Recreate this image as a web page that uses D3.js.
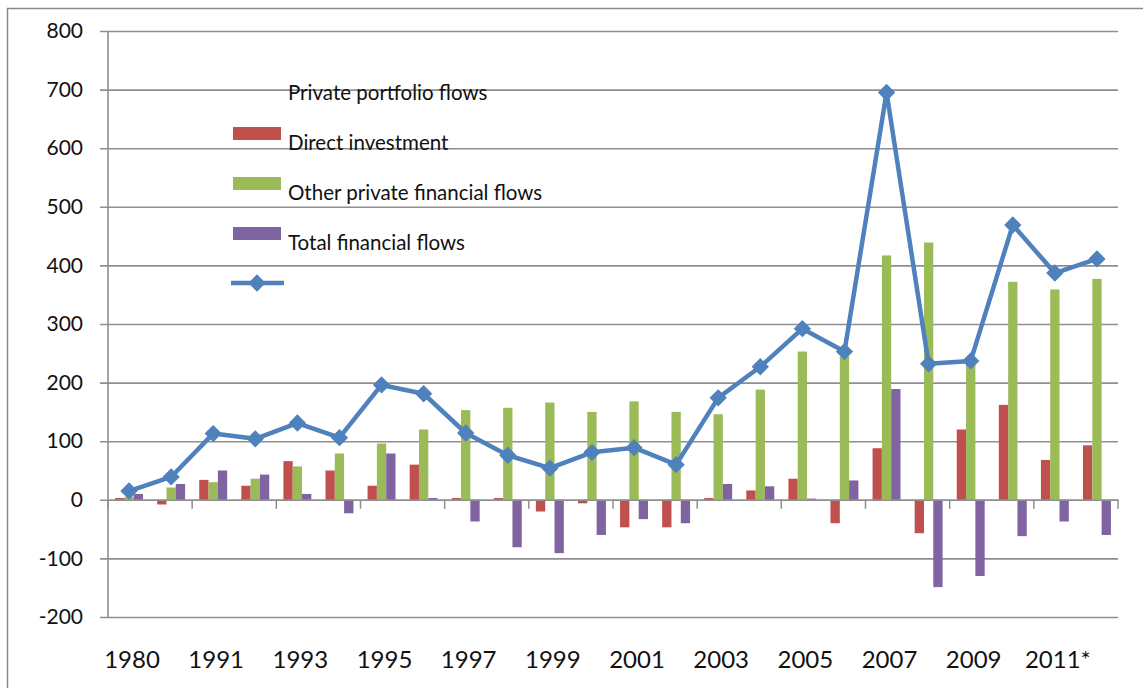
<!DOCTYPE html>
<html>
<head>
<meta charset="utf-8">
<script src="https://cdn.jsdelivr.net/npm/d3@7"></script>
<style>
  body { margin: 0; background: #fff; }
  svg { display: block; font-family: Lato, "Open Sans", sans-serif; }
</style>
</head>
<body>
<div></div>
<script>
const years = ["1980", "1990", "1991", "1992", "1993", "1994", "1995", "1996", "1997", "1998", "1999", "2000",
  "2001", "2002", "2003", "2004", "2005", "2006", "2007", "2008", "2009", "2010", "2011*", "2012*"];
const directInvestment = [3, -8, 34, 24, 66, 50, 24, 60, 3, 3, -20, -6, -47, -47, 3, 16, 36, -40, 88, -57, 120, 162, 68, 93];
const otherPrivateFlows = [5, 21, 30, 36, 57, 79, 96, 120, 153, 157, 166, 150, 168, 150, 146, 188, 253, 245, 417, 439, 232, 372, 359, 377];
const totalFinancialFlows = [10, 27, 50, 43, 10, -23, 79, 3, -37, -81, -91, -60, -33, -40, 27, 23, 2, 33, 189, -149, -130, -62, -37, -60];
const lineFlows = [15, 39, 113, 104, 131, 106, 196, 181, 114, 76, 54, 81, 89, 60, 174, 227, 292, 253, 695, 232, 237, 469, 387, 411];
const yTicks = [-200, -100, 0, 100, 200, 300, 400, 500, 600, 700, 800];
const legendLabels = ["Private portfolio flows", "Direct investment", "Other private financial flows", "Total financial flows", ""];

const colors = { red: "#c0504d", green: "#9bbb59", purple: "#8064a2", blue: "#4f81bd" };
const barKeys = ["red", "green", "purple"];
const barSeries = { red: directInvestment, green: otherPrivateFlows, purple: totalFinancialFlows };

const width = 1143, height = 688;
const plot = { left: 108, right: 1118, top: 31, bottom: 617 };

const svg = d3.select("div").append("svg").attr("width", width).attr("height", height);

// outer frame, runs off the right and bottom edges
svg.append("rect").attr("x", 7.5).attr("y", 8.5).attr("width", 1200).attr("height", 800)
  .attr("fill", "none").attr("stroke", "#8a8a8a").attr("stroke-width", 1.5);

const x = d3.scaleBand().domain(years).range([plot.left, plot.right]);
const x1 = d3.scaleBand().domain(barKeys).range([0, x.bandwidth()]).paddingOuter(0.76);
const y = d3.scaleLinear().domain([-200, 800]).range([plot.bottom, plot.top]);

// gridlines + y ticks
const yAxis = d3.axisLeft(y).tickValues(yTicks).tickSize(-(plot.right - plot.left)).tickPadding(0).tickFormat(d => d);
const gy = svg.append("g").attr("transform", `translate(${plot.left},0)`).call(yAxis);
gy.select(".domain").remove();
gy.selectAll(".tick line").attr("x1", -8).attr("stroke", "#8f8f8f").attr("stroke-width", 1.6);
gy.selectAll(".tick text").attr("x", -25).attr("font-size", 21).attr("fill", "#111")
  .attr("font-family", "Lato, sans-serif");
svg.append("line").attr("x1", plot.left).attr("x2", plot.left).attr("y1", plot.top).attr("y2", plot.bottom)
  .attr("stroke", "#8f8f8f").attr("stroke-width", 1.6);

// bars
const groups = svg.append("g").selectAll("g").data(years).join("g")
  .attr("transform", d => `translate(${x(d)},0)`);
groups.selectAll("rect")
  .data((d, i) => barKeys.map(k => ({ key: k, value: barSeries[k][i] })))
  .join("rect")
  .attr("x", d => x1(d.key))
  .attr("width", x1.bandwidth())
  .attr("y", d => y(Math.max(0, d.value)))
  .attr("height", d => Math.abs(y(d.value) - y(0)))
  .attr("fill", d => colors[d.key]);

// x axis along zero
const xAxis = d3.axisBottom(x).tickValues([]).tickSize(0);
const gx = svg.append("g").attr("transform", `translate(0,${y(0)})`).call(xAxis);
gx.select(".domain").attr("stroke", "#8f8f8f").attr("stroke-width", 1.6);
gx.selectAll(".tickmark").data(d3.range(0, years.length + 1, 2)).join("line")
  .attr("x1", i => plot.left + x.step() * i).attr("x2", i => plot.left + x.step() * i)
  .attr("y1", 0).attr("y2", 9).attr("stroke", "#8f8f8f").attr("stroke-width", 1.5);

svg.append("g").selectAll("text").data(years.filter((d, i) => i % 2 === 0)).join("text")
  .attr("x", d => x(d) + x.bandwidth() / 2 + 3)
  .attr("y", 668)
  .attr("text-anchor", "middle")
  .attr("font-size", 24)
  .attr("fill", "#111")
  .text(d => d);

// line
const cx = d => x(d) + x.bandwidth() / 2;
const line = d3.line().x((d, i) => cx(years[i])).y(d => y(d));
svg.append("path").datum(lineFlows).attr("d", line)
  .attr("fill", "none").attr("stroke", colors.blue).attr("stroke-width", 4.5).attr("stroke-linejoin", "round");
const diamond = d3.symbol().type(d3.symbolSquare).size(150);
svg.append("g").selectAll("path").data(lineFlows).join("path")
  .attr("d", diamond)
  .attr("transform", (d, i) => `translate(${cx(years[i])},${y(d)}) rotate(45)`)
  .attr("fill", colors.blue);

// legend (labels sit one row above their swatches, as in the original)
const legendSwatches = [null, "red", "green", "purple", "line"];
const legend = svg.append("g");
legendLabels.forEach((label, i) => {
  const rowY = 83 + 50 * i;
  legend.append("text").attr("x", 288).attr("y", rowY + 17).attr("font-size", 20.5).attr("fill", "#111").text(label);
  const sw = legendSwatches[i];
  if (sw === "line") {
    legend.append("line").attr("x1", 231).attr("x2", 284).attr("y1", rowY).attr("y2", rowY)
      .attr("stroke", colors.blue).attr("stroke-width", 4.5);
    legend.append("path").attr("d", diamond).attr("transform", `translate(257,${rowY}) rotate(45)`).attr("fill", colors.blue);
  } else if (sw) {
    legend.append("rect").attr("x", 233).attr("y", rowY - 6).attr("width", 48).attr("height", 13).attr("fill", colors[sw]);
  }
});
</script>
</body>
</html>
